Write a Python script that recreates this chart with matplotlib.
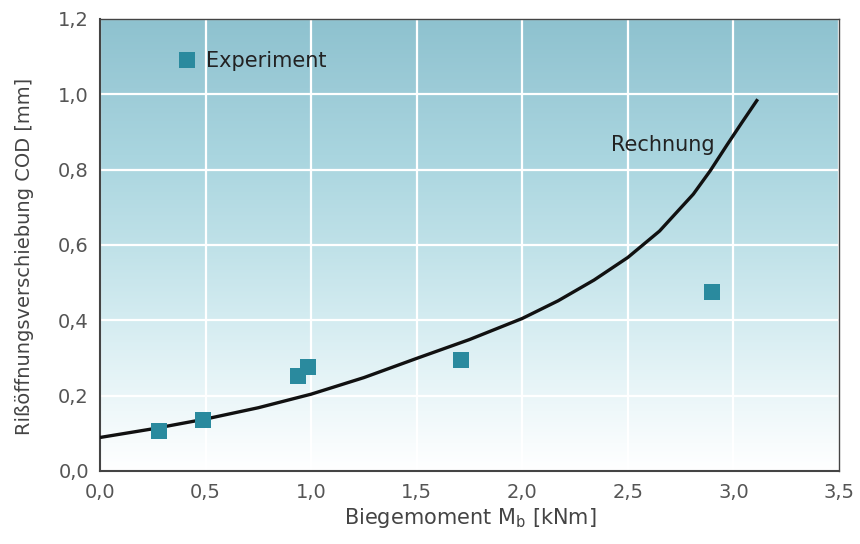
import numpy as np
import matplotlib
matplotlib.use("Agg")
import matplotlib.pyplot as plt
from matplotlib.colors import LinearSegmentedColormap

# Messwerte (Experiment)
exp_moment = [0.28, 0.49, 0.94, 0.985, 1.71, 2.90]
exp_cod = [0.105, 0.135, 0.252, 0.277, 0.296, 0.476]

# Rechnung
calc_moment = [0.0, 0.25, 0.5, 0.75, 1.0, 1.25, 1.5, 1.75, 2.0, 2.17, 2.34, 2.5,
               2.65, 2.81, 2.89, 2.97, 3.04, 3.115]
calc_cod = [0.089, 0.112, 0.138, 0.168, 0.204, 0.248, 0.299, 0.349, 0.405, 0.452, 0.507, 0.567,
            0.637, 0.735, 0.797, 0.866, 0.925, 0.987]

xticks = [0.0, 0.5, 1.0, 1.5, 2.0, 2.5, 3.0, 3.5]
xticklabels = ['0,0', '0,5', '1,0', '1,5', '2,0', '2,5', '3,0', '3,5']
yticks = [0.0, 0.2, 0.4, 0.6, 0.8, 1.0, 1.2]
yticklabels = ['0,0', '0,2', '0,4', '0,6', '0,8', '1,0', '1,2']

plt.rcParams['font.family'] = ['DejaVu Sans']

fig = plt.figure(figsize=(8.6, 5.44), dpi=100)
ax = fig.add_axes([100/860, 73/544, 739/860, 452/544])

# hintergrund: verlauf von petrol (oben) nach weiss (unten)
bg = LinearSegmentedColormap.from_list('bg', [
    (0.0, '#ffffff'),
    (0.06, '#f8fcfd'),
    (0.2, '#e6f4f7'),
    (0.35, '#d2ebf0'),
    (0.5, '#bfe1e8'),
    (0.7, '#a9d5df'),
    (0.85, '#9ccbd7'),
    (1.0, '#8ec2cf'),
])
grad = np.linspace(0, 1, 256).reshape(-1, 1)
ax.imshow(grad, extent=[0, 3.5, 0, 1.2], origin='lower', aspect='auto', cmap=bg, zorder=0)

ax.set_axisbelow(True)
ax.grid(True, color='white', linewidth=1.6)

ax.plot(calc_moment, calc_cod, color='#111111', linewidth=2.4, solid_joinstyle='round',
        solid_capstyle='butt', zorder=3)
ax.plot(exp_moment, exp_cod, linestyle='none', marker='s', markersize=11,
        color='#2a8a9e', markeredgewidth=0, label='Experiment', zorder=4)

ax.text(2.667, 0.865, 'Rechnung', fontsize=15, color='#222222', ha='center', va='center', zorder=5)

ax.legend(loc='center left', bbox_to_anchor=(0.081, 0.907), frameon=False, numpoints=1,
          handlelength=0.8, handletextpad=0.5, fontsize=15, labelcolor='#222222')

ax.set_xlim(0, 3.5)
ax.set_ylim(0, 1.2)
ax.set_xticks(xticks)
ax.set_xticklabels(xticklabels)
ax.set_yticks(yticks)
ax.set_yticklabels(yticklabels)
ax.tick_params(length=0, labelsize=14, labelcolor='#555555')
ax.tick_params(axis='x', pad=9)
ax.tick_params(axis='y', pad=8)

for s in ax.spines.values():
    s.set_color('#444444')
    s.set_linewidth(1.0)
ax.spines['left'].set_linewidth(1.5)
ax.spines['bottom'].set_linewidth(1.5)

fig.text(25/860, 1 - 256/544, 'Rißöffnungsverschiebung COD [mm]', rotation=90, ha='center', va='center',
         fontsize=14, color='#444444')
fig.text(470/860, 1 - 518/544, r'Biegemoment M$_\mathregular{b}$ [kNm]', ha='center', va='center',
         fontsize=15, color='#444444')

fig.savefig('out.png', dpi=100)
